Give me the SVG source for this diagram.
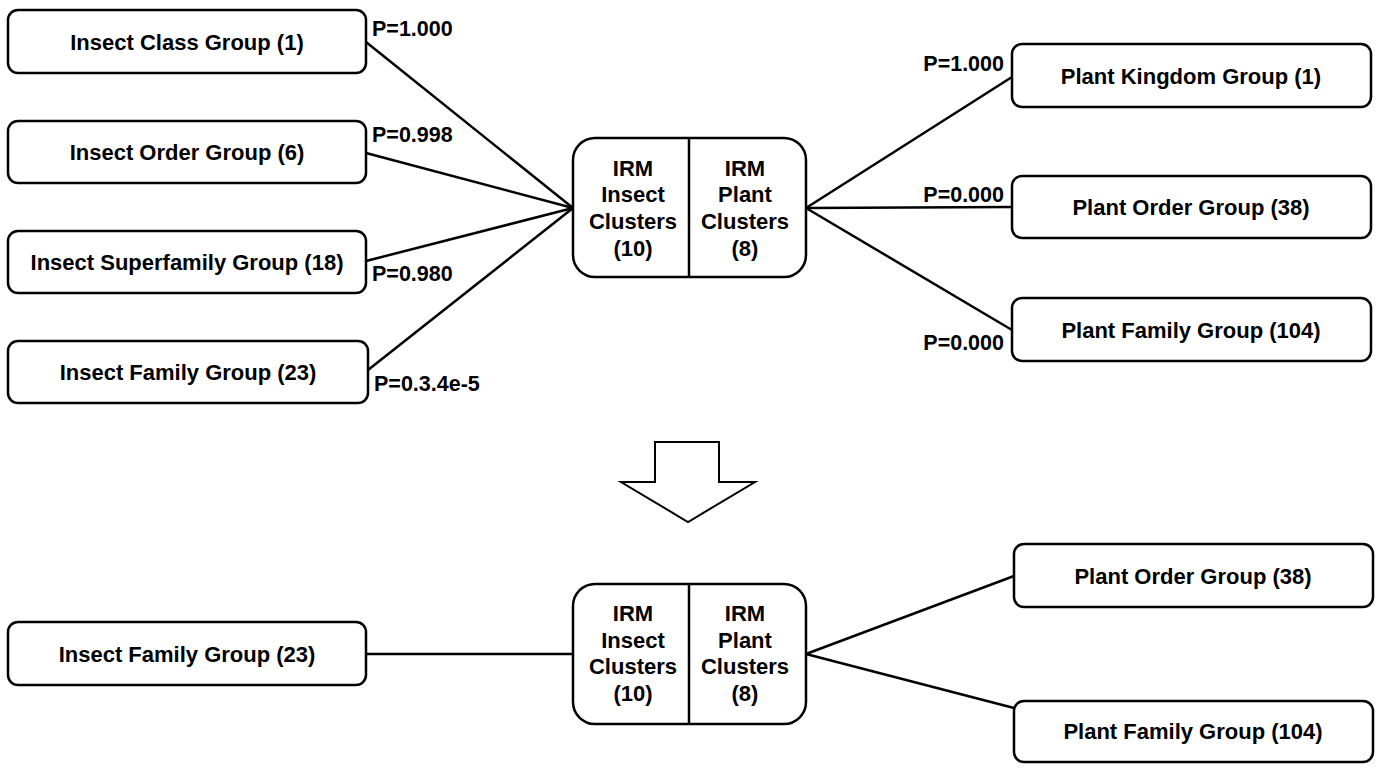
<svg xmlns="http://www.w3.org/2000/svg" width="1386" height="773" viewBox="0 0 1386 773">
<style>
.box{fill:#fff;stroke:#000;stroke-width:2.5}
.lbl{font-family:"Liberation Sans",Arial,sans-serif;font-weight:bold;font-size:22px;fill:#000;text-anchor:middle}
.p{font-family:"Liberation Sans",Arial,sans-serif;font-weight:bold;font-size:21.5px;fill:#000}
.pr{text-anchor:end}
.con{stroke:#000;stroke-width:2.5;fill:none}
</style>
<rect width="1386" height="773" fill="#fff"/>
<g id="connectors">
<line class="con" x1="366" y1="42" x2="573" y2="208"/>
<line class="con" x1="366" y1="153" x2="573" y2="208"/>
<line class="con" x1="366" y1="261" x2="573" y2="208"/>
<line class="con" x1="368" y1="370" x2="573" y2="208"/>
<line class="con" x1="806" y1="208" x2="1012" y2="77"/>
<line class="con" x1="806" y1="208" x2="1012" y2="207"/>
<line class="con" x1="806" y1="208" x2="1012" y2="330"/>
<line class="con" x1="366" y1="654" x2="573" y2="654"/>
<line class="con" x1="806" y1="654" x2="1014" y2="576"/>
<line class="con" x1="806" y1="654" x2="1014" y2="708"/>
<text class="p" x="372" y="36">P=1.000</text>
<text class="p" x="372" y="142">P=0.998</text>
<text class="p" x="372" y="281">P=0.980</text>
<text class="p" x="374" y="391">P=0.3.4e-5</text>
<text class="p pr" x="1004" y="71">P=1.000</text>
<text class="p pr" x="1004" y="202">P=0.000</text>
<text class="p pr" x="1004" y="350">P=0.000</text>
</g>
<g id="insect-class"><rect class="box" x="8" y="10" width="358" height="63" rx="10"/><text class="lbl" x="187" y="50">Insect Class Group (1)</text></g>
<g id="insect-order"><rect class="box" x="8" y="121" width="358" height="62" rx="10"/><text class="lbl" x="187" y="160">Insect Order Group (6)</text></g>
<g id="insect-superfamily"><rect class="box" x="8" y="231" width="358" height="62" rx="10"/><text class="lbl" x="187" y="270">Insect Superfamily Group (18)</text></g>
<g id="insect-family"><rect class="box" x="8" y="341" width="360" height="62" rx="10"/><text class="lbl" x="188" y="380">Insect Family Group (23)</text></g>
<g id="irm-top"><rect class="box" x="573" y="138" width="233" height="139" rx="22"/><line class="box" x1="689" y1="138" x2="689" y2="277"/>
<text class="lbl" x="633" y="176">IRM</text><text class="lbl" x="633" y="202">Insect</text><text class="lbl" x="633" y="229">Clusters</text><text class="lbl" x="633" y="256">(10)</text>
<text class="lbl" x="745" y="176">IRM</text><text class="lbl" x="745" y="202">Plant</text><text class="lbl" x="745" y="229">Clusters</text><text class="lbl" x="745" y="256">(8)</text></g>
<g id="plant-kingdom"><rect class="box" x="1012" y="44" width="359" height="63" rx="10"/><text class="lbl" x="1191" y="84">Plant Kingdom Group (1)</text></g>
<g id="plant-order"><rect class="box" x="1012" y="176" width="359" height="62" rx="10"/><text class="lbl" x="1191" y="215">Plant Order Group (38)</text></g>
<g id="plant-family"><rect class="box" x="1012" y="298" width="359" height="63" rx="10"/><text class="lbl" x="1191" y="338">Plant Family Group (104)</text></g>
<g id="down-arrow"><polygon points="655,442 719,442 719,482 755,482 688,522 621,482 655,482" fill="#fff" stroke="#000" stroke-width="2"/></g>
<g id="insect-family-2"><rect class="box" x="8" y="622" width="358" height="63" rx="10"/><text class="lbl" x="187" y="662">Insect Family Group (23)</text></g>
<g id="irm-bottom"><rect class="box" x="573" y="584" width="233" height="140" rx="22"/><line class="box" x1="689" y1="584" x2="689" y2="724"/>
<text class="lbl" x="633" y="621">IRM</text><text class="lbl" x="633" y="648">Insect</text><text class="lbl" x="633" y="674">Clusters</text><text class="lbl" x="633" y="701">(10)</text>
<text class="lbl" x="745" y="621">IRM</text><text class="lbl" x="745" y="648">Plant</text><text class="lbl" x="745" y="674">Clusters</text><text class="lbl" x="745" y="701">(8)</text></g>
<g id="plant-order-2"><rect class="box" x="1014" y="544" width="359" height="63" rx="10"/><text class="lbl" x="1193" y="584">Plant Order Group (38)</text></g>
<g id="plant-family-2"><rect class="box" x="1014" y="701" width="359" height="61" rx="10"/><text class="lbl" x="1193" y="739">Plant Family Group (104)</text></g>
</svg>
